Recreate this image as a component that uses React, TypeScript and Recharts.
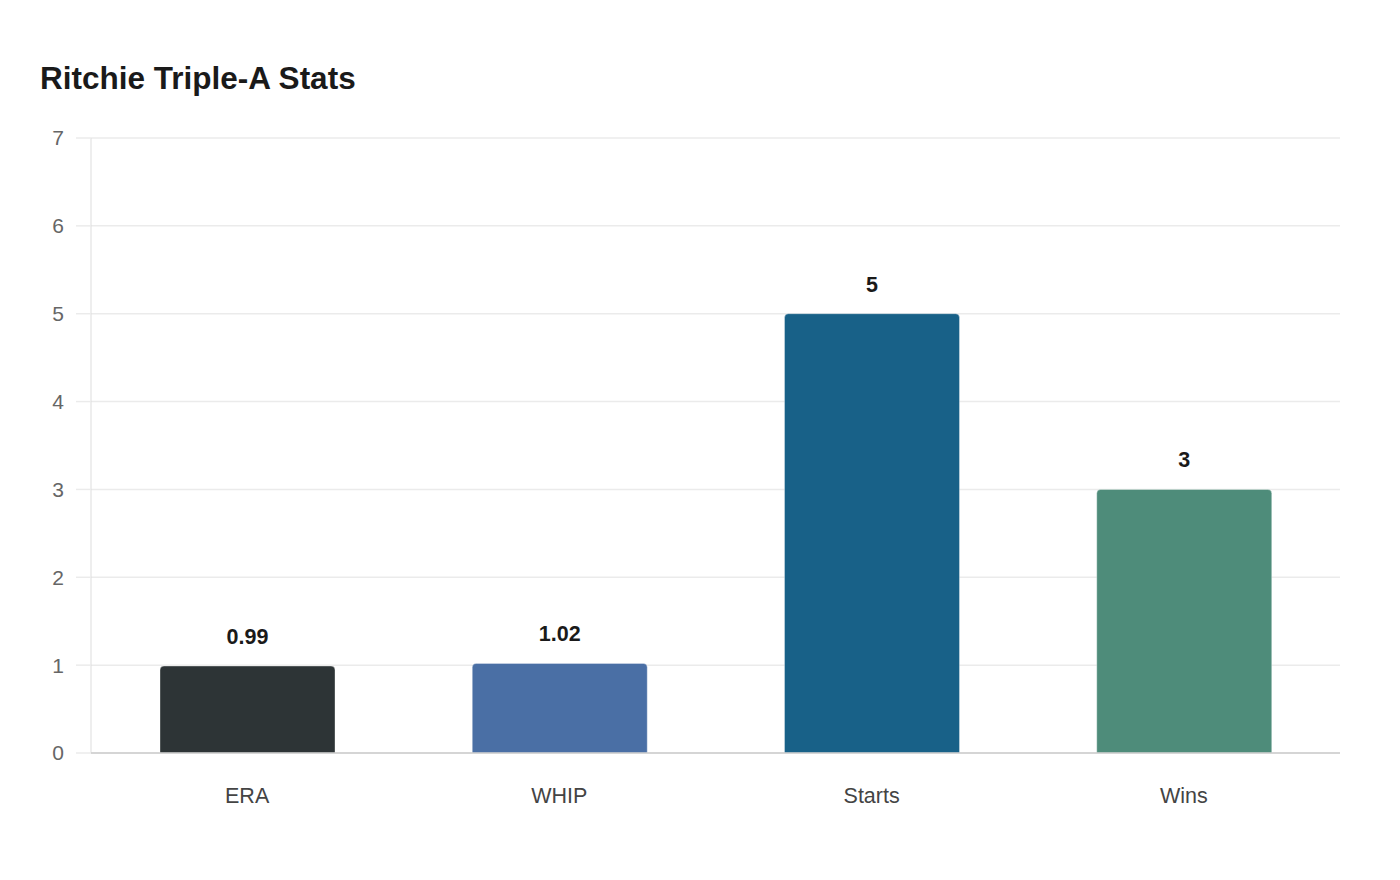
import React from "react";
import { BarChart, Bar, XAxis, YAxis, CartesianGrid, Cell, LabelList } from "recharts";

const categories = ["ERA", "WHIP", "Starts", "Wins"];
const values = [0.99, 1.02, 5, 3];
const colors = ["#2d3436", "#4a6fa5", "#186188", "#4e8c7a"];
const yTicks = [0, 1, 2, 3, 4, 5, 6, 7];

const data = categories.map((name, i) => ({ name, value: values[i] }));

const font = "'Liberation Sans', Arial, Helvetica, sans-serif";

export default function App() {
  return (
    <div style={{ position: "absolute", left: 0, top: 0, width: 1400, height: 880, background: "#fff", fontFamily: font }}>
      <div
        style={{
          position: "absolute",
          left: 40,
          top: 58,
          fontSize: 31.5,
          fontWeight: 700,
          color: "#1a1a1a",
          lineHeight: "40px",
          whiteSpace: "nowrap",
        }}
      >
        Ritchie Triple-A Stats
      </div>
      <BarChart
        width={1400}
        height={880}
        data={data}
        margin={{ top: 138, right: 60, bottom: 0, left: 0 }}
        barSize={175}
        style={{ fontFamily: font }}
      >
        <CartesianGrid vertical={false} stroke="#ebebeb" strokeWidth={1.5} />
        <YAxis
          width={91}
          domain={[0, 7]}
          ticks={yTicks}
          interval={0}
          axisLine={{ stroke: "#dddddd", strokeWidth: 1 }}
          tickLine={{ stroke: "#ebebeb", strokeWidth: 1.5 }}
          tickSize={15}
          tickMargin={12}
          tick={{ fill: "#666666", fontSize: 21, fontFamily: font }}
        />
        <XAxis
          dataKey="name"
          height={127}
          axisLine={{ stroke: "#cccccc", strokeWidth: 1.5 }}
          tickLine={false}
          tickSize={0}
          tickMargin={35}
          tick={{ fill: "#444444", fontSize: 21.5, fontFamily: font }}
        />
        <Bar
          dataKey="value"
          isAnimationActive={false}
          radius={[4, 4, 0, 0]}
          stroke="rgba(255,255,255,0.35)"
          strokeWidth={1}
        >
          {data.map((d, i) => (
            <Cell key={d.name} fill={colors[i]} />
          ))}
          <LabelList
            dataKey="value"
            position="top"
            offset={22}
            style={{ fill: "#1a1a1a", fontSize: 21.5, fontWeight: 700, fontFamily: font }}
          />
        </Bar>
      </BarChart>
    </div>
  );
}
